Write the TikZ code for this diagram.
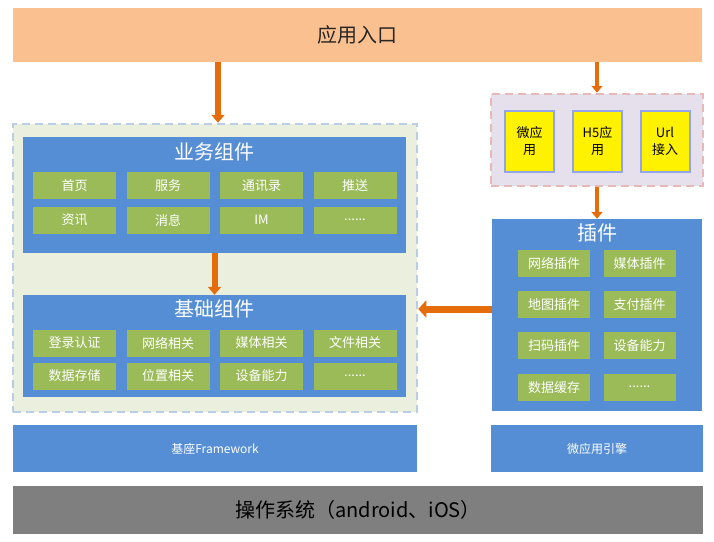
\documentclass[tikz,border=0pt]{standalone}
\usepackage{fontspec}
\setmainfont{Noto Sans CJK SC}
\usetikzlibrary{arrows.meta}
\definecolor{entryorange}{RGB}{250,192,144}
\definecolor{flowcolor}{RGB}{228,108,10}
\definecolor{panelblue}{RGB}{85,142,213}
\definecolor{cellgreen}{RGB}{155,187,89}
\definecolor{holdfill}{RGB}{235,240,222}
\definecolor{holdborder}{RGB}{185,205,229}
\definecolor{minifill}{RGB}{230,224,236}
\definecolor{miniborder}{RGB}{230,185,184}
\definecolor{osgray}{RGB}{127,127,127}
\newcommand\moredots{......}
\tikzset{
  panel/.style={fill=panelblue, draw=none, inner sep=0pt},
  title/.style={text=white, font=\fontsize{20}{22}\selectfont},
  cell/.style={fill=cellgreen, minimum width=83pt, minimum height=27pt, inner sep=0pt,
    text=white, font=\fontsize{13}{15}\selectfont},
  plugcell/.style={cell, minimum width=72pt},
  appbox/.style={fill=yellow, draw=holdborder!80!blue, line width=2pt, minimum width=49pt,
    minimum height=61pt, inner sep=0pt, align=center, font=\fontsize{13}{17}\selectfont},
  dashbox/.style={line width=2.5pt, dash pattern=on 8pt off 5pt, inner sep=0pt},
  flow/.style={-{Triangle[length=8pt,width=13pt]}, line width=6pt, draw=flowcolor},
  thinflow/.style={-{Triangle[length=7pt,width=11pt]}, line width=4.5pt, draw=flowcolor},
  wideflow/.style={-{Triangle[length=8pt,width=17pt]}, line width=7pt, draw=flowcolor}
}
\begin{document}
\begin{tikzpicture}[x=1pt,y=-1pt]
  \useasboundingbox (0,0) rectangle (714,541);

  % top layer
  \node[fill=entryorange, minimum width=689pt, minimum height=54pt, inner sep=0pt,
    text=black!85, font=\fontsize{20}{22}\selectfont] (entry) at (357.5,35) {应用入口};

  % left side: components
  \node[dashbox, fill=holdfill, draw=holdborder,
    minimum width=404pt, minimum height=288pt] (hold) at (215,268) {};
  \node[panel, minimum width=383pt, minimum height=116pt] (biz) at (214.5,195) {};
  \node[title] (biztitle) at (214.5,152) {业务组件};
  \foreach \txt [count=\i] in {首页,服务,通讯录,推送}
    \node[cell] (bizA\i) at ({74.5+93.5*(\i-1)},185.5) {\txt};
  \foreach \txt [count=\i] in {资讯,消息,IM,\moredots}
    \node[cell] (bizB\i) at ({74.5+93.5*(\i-1)},220) {\txt};

  \node[panel, minimum width=383pt, minimum height=102pt] (base) at (214.5,346) {};
  \node[title] (basetitle) at (214.5,309) {基础组件};
  \foreach \txt [count=\i] in {登录认证,网络相关,媒体相关,文件相关}
    \node[cell] (baseA\i) at ({74.5+93.5*(\i-1)},343) {\txt};
  \foreach \txt [count=\i] in {数据存储,位置相关,设备能力,\moredots}
    \node[cell] (baseB\i) at ({74.5+93.5*(\i-1)},376) {\txt};

  % right side: micro apps and plugins
  \node[dashbox, fill=minifill, draw=miniborder,
    minimum width=212pt, minimum height=92pt] (mini) at (597,140) {};
  \node[appbox] (app1) at (529.5,141.5) {微应\\用};
  \node[appbox] (app2) at (597.5,141.5) {H5应\\用};
  \node[appbox] (app3) at (665,141.5) {Url\\接入};

  \node[panel, minimum width=210pt, minimum height=192pt] (plugin) at (597,315) {};
  \node[title] (plugtitle) at (597,233) {插件};
  \foreach \lt/\rt [count=\i] in {网络插件/媒体插件,地图插件/支付插件,扫码插件/设备能力,数据缓存/\moredots}{
    \node[plugcell] (plugL\i) at (554,{263.5+41.2*(\i-1)}) {\lt};
    \node[plugcell] (plugR\i) at (639.5,{263.5+41.2*(\i-1)}) {\rt};
  }

  % bottom layers
  \node[panel, minimum width=404pt, minimum height=47pt, text=white,
    font=\fontsize{12}{14}\selectfont] (frame) at (215,448.5) {基座Framework};
  \node[panel, minimum width=212pt, minimum height=47pt, text=white,
    font=\fontsize{12}{14}\selectfont] (engine) at (597,448.5) {微应用引擎};
  \node[fill=osgray, minimum width=690pt, minimum height=48pt, inner sep=0pt,
    text=black, font=\fontsize{20}{22}\selectfont] (os) at (358,510) {操作系统（android、iOS）};

  % arrows
  \draw[flow] ([xshift=3.5pt]entry.south -| biz.north) -- ([xshift=3.5pt]hold.north -| biz.north);
  \draw[thinflow] (entry.south -| mini.north) -- (mini.north);
  \draw[flow] (biz.south) -- (base.north);
  \draw[thinflow] (mini.south) -- (plugin.north);
  \draw[wideflow] (plugin.west |- basetitle) -- (hold.east |- basetitle);
\end{tikzpicture}
\end{document}
